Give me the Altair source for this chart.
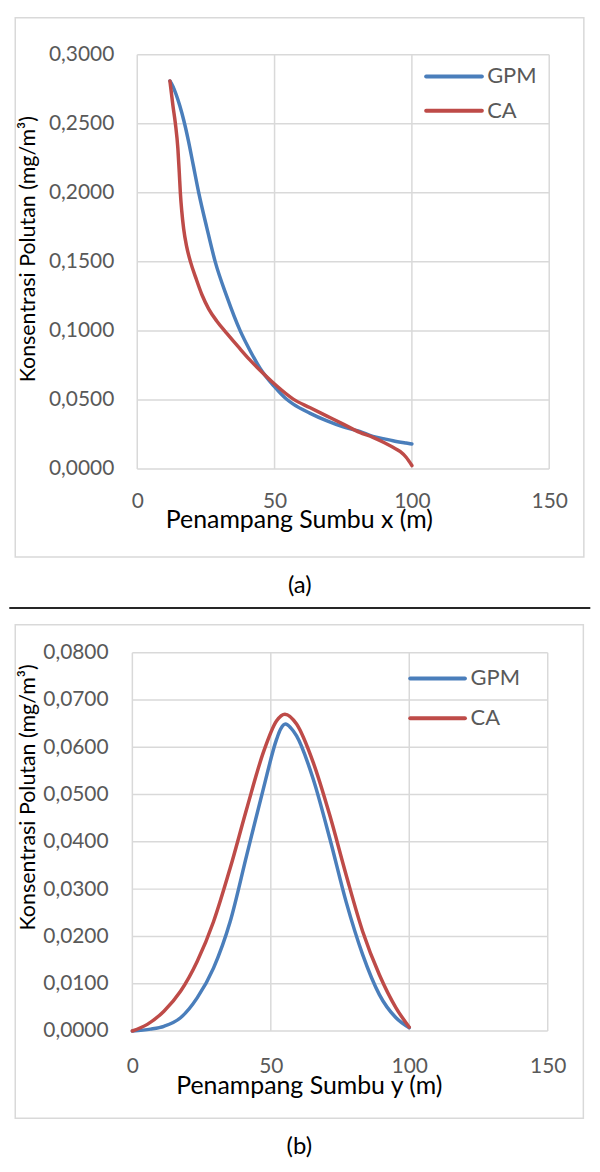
import altair as alt
import pandas as pd

# ---------------- data ----------------
series = ["GPM", "CA"]
colors = ["#4a7ebb", "#be4b48"]

# Chart (a): concentration along x axis
a_gpm_x = [11.9, 13.0, 14.2, 15.5, 17.0, 18.6, 20.4, 22.4, 25.3, 28.4, 32.6, 37.5, 41.0, 44.7,
           49.8, 54.4, 56.8, 62.8, 68.9, 75.0, 81.0, 85.8, 90.0, 93.1, 97.9, 100.0]
a_gpm_y = [0.281, 0.277, 0.271, 0.263, 0.252, 0.238, 0.220, 0.200, 0.175, 0.150, 0.125, 0.100, 0.086, 0.073,
           0.0600, 0.0505, 0.0470, 0.0405, 0.0350, 0.0305, 0.0272, 0.0236, 0.0218, 0.0205, 0.0188, 0.0181]
a_ca_x = [11.9, 13.0, 13.9, 14.8, 15.3, 15.7, 16.2, 16.9, 18.0, 19.4, 21.4, 23.6, 26.0, 29.0, 32.7, 37.0,
          41.0, 44.7, 50.0, 56.8, 62.8, 68.9, 75.0, 81.0, 85.8, 90.0, 93.1, 95.8, 97.9, 100.0]
a_ca_y = [0.281, 0.263, 0.250, 0.232, 0.215, 0.200, 0.187, 0.174, 0.161, 0.150, 0.138, 0.126, 0.116, 0.107, 0.098, 0.088,
          0.079, 0.0715, 0.0615, 0.0506, 0.0445, 0.0385, 0.0325, 0.0265, 0.0229, 0.0190, 0.0157, 0.0125, 0.0085, 0.0025]

# Chart (b): concentration along y axis
b_gpm_x = [0.0, 6.6, 11.4, 17.4, 23.4, 29.3, 35.3, 41.3, 47.3, 52.1, 53.5, 55.3, 57.2, 59.3,
           65.3, 71.3, 77.2, 83.2, 89.2, 95.2, 100.0]
b_gpm_y = [0.0, 0.0004, 0.0010, 0.0028, 0.0070, 0.0133, 0.0231, 0.0372, 0.0512, 0.0617, 0.0638, 0.0649, 0.0641, 0.0624,
           0.0533, 0.0407, 0.0273, 0.0161, 0.0077, 0.0028, 0.0007]
b_ca_x = [0.0, 5.4, 11.4, 17.4, 23.4, 29.3, 35.3, 41.3, 47.3, 52.1, 55.1, 59.3,
          65.3, 71.3, 77.2, 83.2, 89.2, 95.2, 100.0]
b_ca_y = [0.0, 0.0014, 0.0042, 0.0084, 0.0147, 0.0231, 0.0344, 0.0470, 0.0589, 0.0656, 0.0670, 0.0649,
          0.0568, 0.0456, 0.0330, 0.0210, 0.0119, 0.0049, 0.0008]

x_ticks = [0, 50, 100, 150]
a_y_ticks = [0.0, 0.05, 0.10, 0.15, 0.20, 0.25, 0.30]
b_y_ticks = [0.0, 0.01, 0.02, 0.03, 0.04, 0.05, 0.06, 0.07, 0.08]

y_title = "Konsentrasi Polutan (mg/m³)"
a_x_title = "Penampang Sumbu x (m)"
b_x_title = "Penampang Sumbu y (m)"

FONT = "Lato"
GRID = "#d9d9d9"
LABEL = "#595959"


def panel(gx, gy, cx, cy, yticks, ymax, xtitle, caption, geo):
    W, H = geo["W"], geo["H"]
    df = pd.DataFrame({
        "x": gx + cx,
        "y": gy + cy,
        "series": [series[0]] * len(gx) + [series[1]] * len(cx),
    })
    xs = alt.Scale(domain=[0, 150], range=[geo["x0"], W], nice=False, zero=False)
    ys = alt.Scale(domain=[0, ymax], nice=False)

    xaxis = alt.Axis(values=x_ticks, grid=False, domain=False, ticks=False,
                     labelFont=FONT, labelFontSize=21, labelColor=LABEL,
                     labelFlush=False, labelOverlap=False,
                     labelBaseline="middle", labelPadding=geo["xlp"],
                     title=xtitle, titleFont=FONT, titleFontSize=25,
                     titleFontWeight="normal", titleColor="#000000",
                     titleX=geo["txx"], titleY=geo["txy"],
                     titleAlign="center", titleBaseline="alphabetic")
    yaxis = alt.Axis(values=yticks, grid=False, domain=False, ticks=False,
                     labelExpr="replace(format(datum.value, '.4f'), '.', ',')",
                     labelFont=FONT, labelFontSize=21, labelColor=LABEL,
                     labelOverlap=False, labelPadding=geo["ylp"],
                     title=y_title, titleFont=FONT, titleFontSize=21.5,
                     titleFontWeight="normal", titleColor="#000000",
                     titleX=geo["tyx"], titleY=geo["tyy"],
                     titleAlign="center", titleBaseline="alphabetic")

    hgrid = alt.Chart(pd.DataFrame({"v": yticks})).mark_rule(
        color=GRID, strokeWidth=1.5).encode(
        y=alt.Y("v:Q", scale=ys, axis=yaxis),
        x=alt.datum(0, scale=xs),
        x2=alt.datum(150),
    )
    vgrid = alt.Chart(pd.DataFrame({"t": x_ticks})).mark_rule(
        color=GRID, strokeWidth=1.5).encode(
        x=alt.X("t:Q", scale=xs, axis=xaxis),
        y=alt.datum(0, scale=ys),
        y2=alt.datum(ymax),
    )
    lines = alt.Chart(df).mark_line(
        interpolate="monotone", strokeWidth=3.5, strokeCap="round").encode(
        x=alt.X("x:Q", scale=xs, axis=xaxis),
        y=alt.Y("y:Q", scale=ys, axis=yaxis),
        color=alt.Color("series:N", scale=alt.Scale(domain=series, range=colors), legend=None),
    )

    one = pd.DataFrame({"k": [0]})
    box = alt.Chart(one).mark_rect(fillOpacity=0, stroke=GRID, strokeWidth=1.5).encode(
        x=alt.value(geo["bx1"]), x2=alt.value(geo["bx2"]),
        y=alt.value(geo["by1"]), y2=alt.value(geo["by2"]),
    )
    layers = [box, hgrid, vgrid, lines]
    for i, name in enumerate(series):
        ly = geo["ly"][i]
        layers.append(alt.Chart(one).mark_rule(strokeWidth=4, color=colors[i], strokeCap="round").encode(
            x=alt.value(geo["lx1"]), x2=alt.value(geo["lx2"]), y=alt.value(ly)))
        layers.append(alt.Chart(one).mark_text(
            align="left", baseline="middle", font=FONT, fontSize=22, color=LABEL).encode(
            x=alt.value(geo["ltx"]), y=alt.value(ly), text=alt.value(name)))
    layers.append(alt.Chart(one).mark_text(
        align="center", baseline="middle", font=FONT, fontSize=24, color="#000000").encode(
        x=alt.value(geo["cx"]), y=alt.value(geo["cy"]), text=alt.value(caption)))
    if geo.get("sep") is not None:
        layers.append(alt.Chart(one).mark_rule(strokeWidth=2, color="#262626").encode(
            x=alt.value(geo["sx1"]), x2=alt.value(geo["sx2"]), y=alt.value(geo["sep"])))
    return alt.layer(*layers).properties(width=W, height=H)


geo_a = dict(W=419, H=416.4, x0=4.9, xlp=33.2, txx=167.3, txy=59.2,
             ylp=18.7, tyx=-98.4, tyy=195,
             bx1=-117.7, bx2=453.8, by1=-37.1, by2=504.9,
             lx1=295.3, lx2=351.3, ltx=356.6, ly=[21.9, 56.2],
             cx=168.3, cy=534, sep=556.2, sx1=-123.7, sx2=460.3)
geo_b = dict(W=417.5, H=380.3, x0=0, xlp=35.5, txx=177.3, txy=62.7,
             ylp=24.4, tyx=-98.4, tyy=145,
             bx1=-117.7, bx2=453.3, by1=-28, by2=468,
             lx1=279.3, lx2=334.3, ltx=340, ly=[26, 66],
             cx=167.8, cy=497)

chart_a = panel(a_gpm_x, a_gpm_y, a_ca_x, a_ca_y, a_y_ticks, 0.3, a_x_title, "(a)", geo_a)
chart_b = panel(b_gpm_x, b_gpm_y, b_ca_x, b_ca_y, b_y_ticks, 0.08, b_x_title, "(b)", geo_b)

chart = alt.vconcat(chart_a, chart_b, spacing=14).properties(
    padding={"left": 0, "top": 6, "right": 0, "bottom": 0}
).configure(font=FONT).configure_view(stroke=None)

chart.save("out.html", embed_options={"renderer": "svg", "actions": False})
